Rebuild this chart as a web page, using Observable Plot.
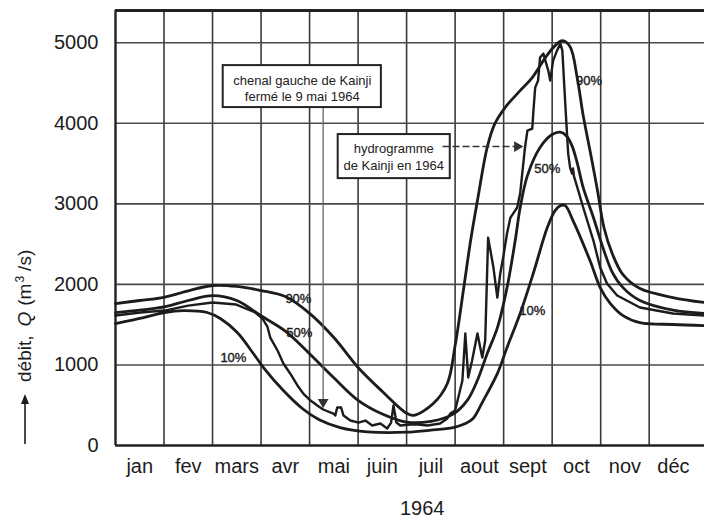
<!DOCTYPE html>
<html><head><meta charset="utf-8">
<script src="https://cdn.jsdelivr.net/npm/d3@7"></script>
<script src="https://cdn.jsdelivr.net/npm/@observablehq/plot@0.6"></script>
<style>
body{margin:0;background:#fff;}
svg{font-family:"Liberation Sans",Arial,sans-serif;}
</style>
</head><body><div id="chart"></div>
<script>
// month labels (x axis) and y ticks
const months = ["jan","fev","mars","avr","mai","juin","juil","aout","sept","oct","nov","déc"];
const yTicks = [0,1000,2000,3000,4000,5000];
const xTitle = "1964";

// [month position (0 = 1 jan), discharge m3/s]
const q90 = [[0,1762],[0.5,1800],[1.0,1840],[1.5,1920],[2.0,1986],[2.5,1975],[3.0,1924],[3.5,1849],[4.0,1640],[4.5,1340],[5.0,968],[5.5,670],[6.0,400],[6.15,375],[6.55,521],[6.84,770],[7.0,1240],[7.17,1924],[7.31,2507],[7.46,3040],[7.66,3698],[7.81,3984],[8.03,4195],[8.34,4405],[8.59,4567],[8.86,4815],[9.06,4964],[9.21,5026],[9.37,4950],[9.52,4550],[9.64,4095],[9.78,3661],[9.93,3180],[10.07,2700],[10.24,2380],[10.46,2120],[10.81,1948],[11.49,1837],[12.14,1775]];
const q50 = [[0,1650],[0.5,1680],[1.0,1720],[1.5,1800],[2.0,1860],[2.5,1800],[3.0,1610],[3.5,1420],[4.0,1140],[4.5,840],[5.0,560],[5.5,390],[6.0,290],[6.5,300],[6.96,390],[7.25,560],[7.46,810],[7.66,1140],[7.87,1460],[8.07,1960],[8.24,2550],[8.34,2950],[8.49,3350],[8.75,3700],[9.0,3860],[9.17,3890],[9.3,3840],[9.41,3720],[9.52,3500],[9.64,3200],[9.85,2830],[10.05,2450],[10.24,2150],[10.46,1960],[10.81,1800],[11.49,1680],[12.14,1640]];
const q10 = [[0,1514],[0.58,1588],[1.01,1651],[1.4,1675],[1.89,1651],[2.16,1576],[2.51,1402],[2.84,1142],[3.05,968],[3.46,683],[3.87,450],[4.2,320],[4.63,223],[5.19,170],[6.0,165],[6.5,190],[6.96,223],[7.2,270],[7.37,335],[7.58,558],[7.87,893],[8.07,1216],[8.34,1638],[8.61,2135],[8.9,2705],[9.06,2916],[9.17,2978],[9.27,2978],[9.43,2792],[9.78,2296],[9.99,1961],[10.2,1762],[10.46,1613],[10.81,1526],[11.49,1502],[12.14,1489]];
const hydro1964 = [[0,1613],[0.51,1651],[1.01,1675],[1.5,1737],[2.0,1775],[2.49,1750],[2.88,1651],[3.03,1576],[3.13,1477],[3.19,1340],[3.34,1179],[3.46,1018],[3.6,894],[3.75,745],[3.87,645],[4.02,558],[4.16,496],[4.28,447],[4.49,397],[4.53,372],[4.57,472],[4.65,472],[4.7,372],[4.84,310],[5.01,285],[5.15,310],[5.29,248],[5.46,273],[5.6,211],[5.68,285],[5.73,496],[5.79,285],[5.87,248],[6.08,261],[6.24,261],[6.43,248],[6.69,273],[6.84,335],[6.9,397],[7.0,434],[7.15,807],[7.21,1390],[7.27,844],[7.35,1055],[7.46,1390],[7.56,1092],[7.62,1303],[7.68,2581],[7.79,2209],[7.87,1837],[7.93,2135],[7.99,2333],[8.07,2631],[8.14,2829],[8.28,2954],[8.34,3127],[8.44,3698],[8.49,3909],[8.59,3934],[8.61,4120],[8.65,4443],[8.71,4530],[8.75,4815],[8.82,4865],[8.86,4778],[8.92,4654],[8.96,4530],[9.02,4778],[9.1,4902],[9.17,4989],[9.21,4902],[9.27,4244],[9.33,3624],[9.37,3450],[9.41,3376],[9.43,3438],[9.45,3340],[9.52,3202],[9.64,2954],[9.85,2544],[9.99,2209],[10.13,2010],[10.34,1862],[10.81,1713],[11.49,1638],[12.14,1613]];

// curve labels
const curveLabels = [
  {m:9.76, v:4530, t:"90%"}, {m:8.9, v:3440, t:"50%"}, {m:8.59, v:1675, t:"10%"},
  {m:3.77, v:1824, t:"90%"}, {m:3.79, v:1402, t:"50%"}, {m:2.43, v:1092, t:"10%"}
];

const note1 = "chenal gauche de Kainji\nfermé le 9 mai 1964";
const note2 = "hydrogramme\nde Kainji en 1964";

const ink = "#1c1c1c";
const X = d => d[0], Y = d => d[1];

const chart = Plot.plot({
  width: 704, height: 520,
  marginLeft: 115, marginRight: 0, marginTop: 10, marginBottom: 75,
  x: {domain: [0, 12.14]},
  y: {domain: [0, 5400]},
  style: {fontFamily: "Liberation Sans, Arial, sans-serif", color: ink},
  marks: [
    Plot.ruleX(d3.range(1, 12), {stroke: "#3a3a3a", strokeWidth: 1.6}),
    Plot.ruleY(yTicks.slice(1), {stroke: "#4a4a4a", strokeWidth: 1.6}),
    Plot.ruleX([0], {stroke: "#222", strokeWidth: 2.4}),
    Plot.ruleY([0], {stroke: "#222", strokeWidth: 2.4}),
    Plot.ruleY([5400], {stroke: "#222", strokeWidth: 3}),
    Plot.axisY(yTicks, {tickSize: 0, tickPadding: 17, fontSize: 20, fill: ink, stroke: ink, strokeWidth: 0.35,
      tickFormat: d => String(d), label: null}),
    Plot.axisX(months.map((d, i) => i + 0.5), {tickSize: 0, tickPadding: 13, fontSize: 20, fill: ink, stroke: ink, strokeWidth: 0.35,
      tickFormat: d => months[Math.floor(d)], label: null}),
    Plot.text([xTitle], {x: 6.32, frameAnchor: "bottom", dy: 69, fontSize: 20, fill: ink}),
    Plot.line(q10, {x: X, y: Y, curve: "catmull-rom", stroke: ink, strokeWidth: 2.8}),
    Plot.line(q50, {x: X, y: Y, curve: "catmull-rom", stroke: ink, strokeWidth: 2.8}),
    Plot.line(q90, {x: X, y: Y, curve: "catmull-rom", stroke: ink, strokeWidth: 2.8}),
    Plot.line(hydro1964, {x: X, y: Y, curve: "linear", stroke: ink, strokeWidth: 2.4, strokeLinejoin: "round"}),
    Plot.text(curveLabels, {x: "m", y: "v", text: "t", fontSize: 13, fill: ink, stroke: ink, strokeWidth: 0.4}),
    // annotation 1 : box + vertical arrow to 9 mai
    Plot.link([{x1: 4.28, y1: 4195, x2: 4.28, y2: 560}], {x1: "x1", y1: "y1", x2: "x2", y2: "y2", stroke: "#666", strokeWidth: 1.3}),
    Plot.dot([{x: 4.28, y: 540}], {x: "x", y: "y", symbol: "triangle", r: 4, rotate: 180, fill: "#333", stroke: "none"}),
    Plot.rect([{x1: 2.22, x2: 5.48, y1: 4195, y2: 4716}], {x1: "x1", x2: "x2", y1: "y1", y2: "y2", fill: "white", stroke: "#222", strokeWidth: 2}),
    Plot.text([note1], {x: 3.85, y: 4440, fontSize: 13, lineHeight: 1.25, fill: "#222"}),
    // annotation 2 : box + dashed arrow to hydrograph
    Plot.rect([{x1: 4.59, x2: 6.9, y1: 3313, y2: 3860}], {x1: "x1", x2: "x2", y1: "y1", y2: "y2", fill: "white", stroke: "#222", strokeWidth: 2}),
    Plot.text([note2], {x: 5.735, y: 3590, fontSize: 13, lineHeight: 1.3, fill: "#222"}),
    Plot.link([{x1: 6.74, y1: 3711, x2: 8.24, y2: 3711}], {x1: "x1", y1: "y1", x2: "x2", y2: "y2", stroke: "#333", strokeWidth: 1.4, strokeDasharray: "7,3"}),
    Plot.dot([{x: 8.28, y: 3711}], {x: "x", y: "y", symbol: "triangle", r: 4, rotate: 90, fill: "#333", stroke: "none"})
  ]
});
document.getElementById("chart").appendChild(chart);

// y axis title with arrow (rotated)
const svg = d3.select(chart);
svg.append("line").attr("x1", 25).attr("x2", 25).attr("y1", 444).attr("y2", 402)
  .attr("stroke", ink).attr("stroke-width", 1.6);
svg.append("path").attr("d", "M25,394 L21,404 L29,404 Z").attr("fill", ink);
const t = svg.append("text").attr("transform", "translate(31,382) rotate(-90)")
  .attr("text-anchor", "start")
  .attr("font-size", 19).attr("fill", ink).attr("font-family", "Liberation Sans, Arial, sans-serif");
t.append("tspan").text("débit,");
t.append("tspan").attr("dx", 9).attr("font-style", "italic").text("Q");
t.append("tspan").attr("dx", 6).text("(m");
t.append("tspan").attr("font-size", 12).attr("dy", -7).attr("dx", 1).text("3");
t.append("tspan").attr("dy", 7).attr("dx", 5).text("/s)");
</script>
</body></html>
